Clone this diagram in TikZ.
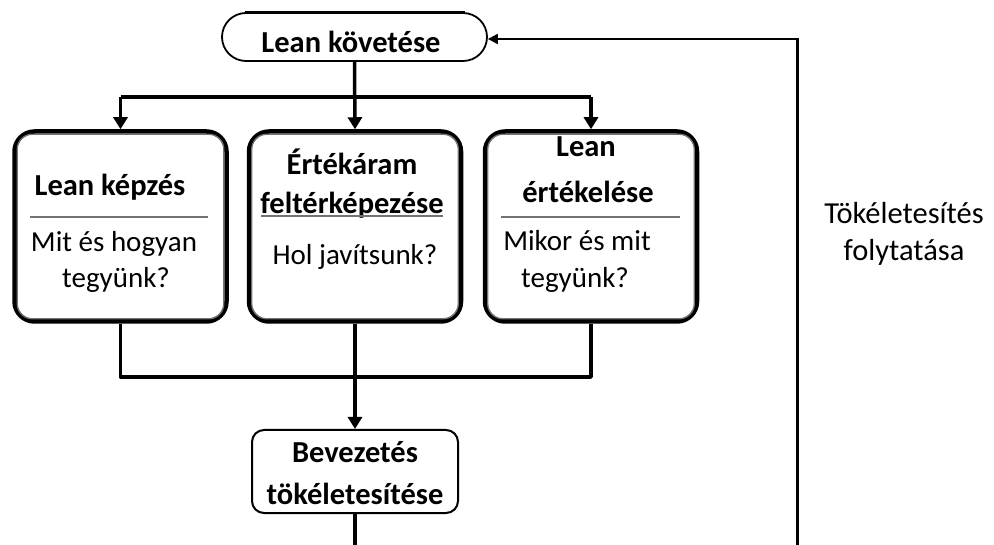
\documentclass[tikz,border=0pt]{standalone}
\usepackage{fontspec}
\setmainfont{Carlito}
\usetikzlibrary{arrows.meta,shapes.misc}

\begin{document}
\begin{tikzpicture}[x=1pt,y=-1pt,line join=round,
  conn/.style={line width=3.5pt},
  arr/.style={conn,-{Triangle[length=12pt,width=14pt]}},
  headtxt/.style={inner sep=0pt,font=\bfseries\fontsize{30.5}{34}\selectfont},
  bodytxt/.style={inner sep=0pt,font=\fontsize{29}{34}\selectfont},
  sidetxt/.style={inner sep=0pt,font=\fontsize{30.5}{34}\selectfont},
  bigbox/.style={draw,line width=4.5pt,rounded corners=20pt,
    minimum width=212pt,minimum height=190pt,inner sep=0pt},
  innerline/.style={draw=black!55,line width=1.3pt},
  smallbox/.style={draw,line width=2pt,rounded corners=12pt,
    minimum width=206pt,minimum height=83pt,inner sep=0pt},
  startbox/.style={draw,line width=1.8pt,rounded rectangle,
    minimum width=265pt,minimum height=48pt,inner sep=0pt}]
\useasboundingbox (0,0) rectangle (994,545);

% start terminal
\node[startbox] (top) at (354.5,37) {};
\node[headtxt] (topt) at (351,42) {Lean követése};
\draw[line width=3pt] ([xshift=-110pt]top.north) -- ([xshift=110pt]top.north);

% the three activity boxes
\node[bigbox] (b1) at (120.5,226.5) {};
\node[bigbox] (b2) at (355,226.5) {};
\node[bigbox] (b3) at (591,226.5) {};
\foreach \b in {b1,b2,b3}{
  \draw[innerline,rounded corners=15pt]
    ([shift={(5,-5)}]\b.south west) rectangle ([shift={(-5,5)}]\b.north east);
}

% box 1
\node[headtxt] (t1a) at (110,187) {Lean képzés};
\coordinate (s1l) at (30,217); \coordinate (s1r) at (208,217);
\draw[innerline] (s1l) -- (s1r);
\node[bodytxt] (t1b) at (114,244) {Mit és hogyan};
\node[bodytxt] (t1c) at (116,280) {tegyünk?};

% box 2
\node[headtxt] (t2a) at (352,162) {Értékáram};
\node[headtxt] (t2b) at (352,205) {feltérképezése};
\coordinate (s2l) at (261,216); \coordinate (s2r) at (443,216);
\draw[innerline] (s2l) -- (s2r);
\node[bodytxt] (t2c) at (355,257) {Hol javítsunk?};

% box 3
\node[headtxt] (t3a) at (586,147) {Lean};
\node[headtxt] (t3b) at (588,192) {értékelése};
\coordinate (s3l) at (501,217); \coordinate (s3r) at (680,217);
\draw[innerline] (s3l) -- (s3r);
\node[bodytxt] (t3c) at (577,241) {Mikor és mit};
\node[bodytxt] (t3d) at (575,280) {tegyünk?};

% implementation box
\node[smallbox] (impl) at (355,471.5) {};
\node[headtxt] (t4a) at (355,452) {Bevezetés};
\node[headtxt] (t4b) at (355,494) {tökéletesítése};

% feedback label
\node[sidetxt] (fb1) at (904,213) {Tökéletesítés};
\node[sidetxt] (fb2) at (904,252) {folytatása};

% fan-out
\coordinate (split) at (355,97);
\draw[arr] (top.south) -- (b2.north);
\draw[conn] (split -| b1.north) -- (split -| b3.north);
\draw[arr] (split -| b1.north) -- (b1.north);
\draw[arr] (split -| b3.north) -- (b3.north);

% fan-in
\coordinate (merge) at (355,377);
\draw[conn] (b1.south) |- (merge) -| (b3.south);
\draw[arr] (b2.south) -- (impl.north);

% continuation lines
\coordinate (downend) at (355,546);
\draw[conn] (impl.south) -- (downend);
\coordinate (fbB) at (797,546);
\coordinate (fbT) at (797,39);
\draw[line width=3pt] (fbB) -- (fbT);
\draw[line width=2pt,-{Triangle[length=10pt,width=10pt]}]
  ([xshift=1.5pt]fbT) -- (fbT -| top.east);
\end{tikzpicture}
\end{document}
